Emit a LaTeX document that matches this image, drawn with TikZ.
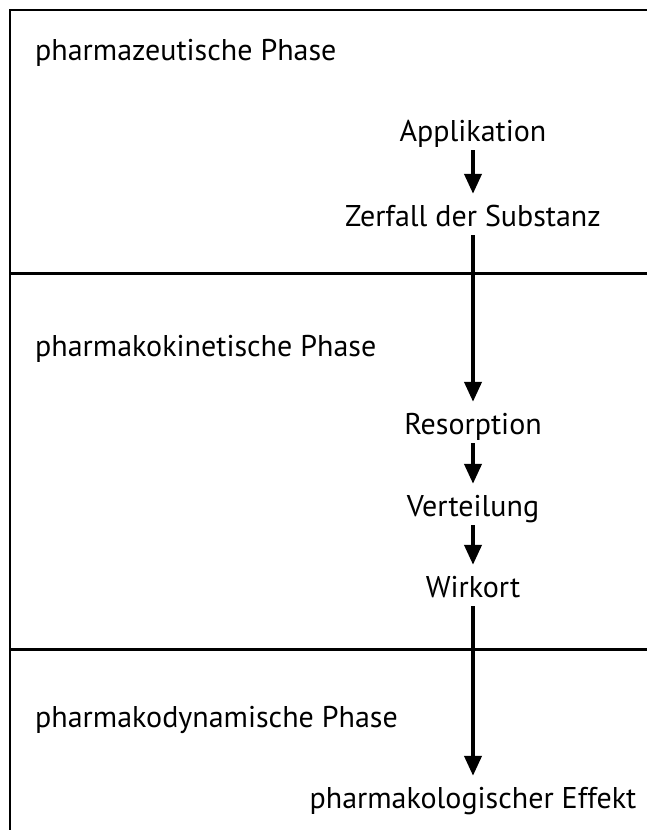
\documentclass[tikz,border=0pt]{standalone}
\usepackage{fontspec}
\setmainfont{PT Sans}
\usetikzlibrary{arrows.meta}
\begin{document}
\begin{tikzpicture}[x=1pt,y=-1pt,
  txt/.style={inner sep=0pt,text height=22pt,text depth=7pt,font=\fontsize{30}{34}\selectfont,anchor=base},
  phase/.style={txt,anchor=base west},
  flow/.style={line width=4pt,-{Triangle[width=17pt,length=20pt]},shorten <=2pt,shorten >=10pt},
  frame/.style={line width=2pt},
  divider/.style={line width=3pt}]
\useasboundingbox (0,0) rectangle (647,830);
\fill[white] (0,0) rectangle (647,830);
\draw[frame] (10,831) -- (10,10) -- (648,10);
\draw[divider] (10,273) -- (648,273);
\draw[divider] (10,649) -- (648,649);
\node[phase] (p1) at (35,60) {pharmazeutische Phase};
\node[phase] (p2) at (35,356) {pharmakokinetische Phase};
\node[phase] (p3) at (35,727) {pharmakodynamische Phase};
\node[txt] (app) at (473,141) {Applikation};
\node[txt] (zer) at (473,226) {Zerfall der Substanz};
\node[txt] (res) at (473,434) {Resorption};
\node[txt] (ver) at (473,516) {Verteilung};
\node[txt] (wir) at (473,597) {Wirkort};
\node[txt] (eff) at (473,808) {pharmakologischer Effekt};
\draw[flow] (app) -- (zer);
\draw[flow] (zer) -- (res);
\draw[flow] (res) -- (ver);
\draw[flow] (ver) -- (wir);
\draw[flow] (wir) -- (eff);
\end{tikzpicture}
\end{document}
